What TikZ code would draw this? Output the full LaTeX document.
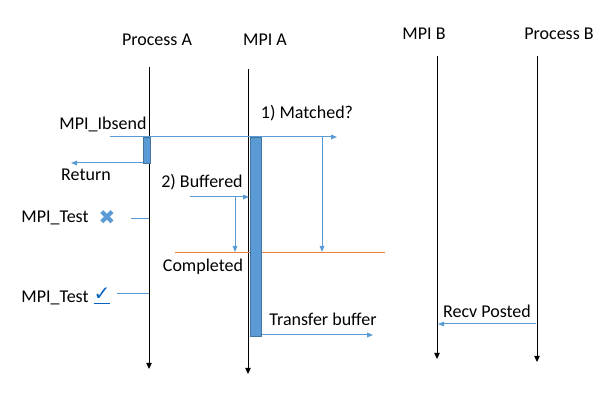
\documentclass[tikz,border=0pt]{standalone}
\usepackage{fontspec}
\setmainfont{Carlito}
\newfontfamily\symfont{DejaVu Sans}
\usetikzlibrary{positioning,arrows.meta}
\definecolor{msgblue}{HTML}{5B9BD5}
\definecolor{doneorange}{HTML}{ED7D31}
\definecolor{linkblue}{HTML}{0563C1}

\begin{document}
\begin{tikzpicture}[
  x=0.75pt, y=-0.75pt, line width=0.75pt,
  lifeline/.style={
        draw,
        -{Triangle[length=4.5pt,width=4pt]}
  },
  msg/.style={draw=msgblue, -{Triangle[length=4.5pt,width=3.5pt]}},
  poll/.style={draw=msgblue},
  busy/.style={draw=msgblue!75!black, fill=msgblue, inner sep=0pt, anchor=north west},
  lbl/.style={inner sep=1pt, font=\fontsize{13.5}{15}\selectfont}
]
    \useasboundingbox (0,0) rectangle (601,416);

    % heads
    \node[lbl] (ProcA) at (157,40) {Process A};
    \node[lbl] (MpiA) at (265,40) {MPI A};
    \node[lbl] (MpiB) at (424,34) {MPI B};
    \node[lbl] (ProcB) at (559,34) {Process B};

    \coordinate (ProcA_top) at (149,67);
    \coordinate (ProcA_end) at (149,369);
    \coordinate (MpiA_top) at (248,69);
    \coordinate (MpiA_end) at (248,374);
    \coordinate (MpiB_top) at (437,56);
    \coordinate (MpiB_end) at (437,359);
    \coordinate (ProcB_top) at (537,56);
    \coordinate (ProcB_end) at (537,362);

    \draw[lifeline] (ProcA_top) -- (ProcA_end);
    \draw[lifeline] (MpiA_top) -- (MpiA_end);
    \draw[lifeline] (MpiB_top) -- (MpiB_end);
    \draw[lifeline] (ProcB_top) -- (ProcB_end);

    % completion line
    \coordinate (Done_l) at (175,253);
    \coordinate (Done_r) at (385,253);
    \draw[doneorange] (Done_l) -- (Done_r);

    % busy bars
    \node[busy, minimum width=5.25pt, minimum height=19.5pt] (Bar_A) at (143,137) {};
    \node[busy, minimum width=8.25pt, minimum height=149pt] (Bar_MpiA) at (250,137) {};

    % Ibsend
    \node[lbl] (Ibsend) at (103,124) {MPI\_Ibsend};
    \coordinate (Send_s) at (110,137);
    \coordinate (Send_e) at (337,137);
    \draw[msg] (Send_s) -- (Send_e);

    \node[lbl] (Matched) at (307,113) {1) Matched?};
    \coordinate (Match_t) at (322,137);
    \coordinate (Match_b) at (322,252);
    \draw[msg] (Match_t) -- (Match_b);

    \node[lbl] (Return) at (86,175) {Return};
    \coordinate (Ret_s) at (143,163);
    \coordinate (Ret_e) at (71,163);
    \draw[msg] (Ret_s) -- (Ret_e);

    \node[lbl] (Buffered) at (202,182) {2) Buffered};
    \coordinate (Buf_s) at (190,197);
    \coordinate (Buf_e) at (249,197);
    \draw[msg] (Buf_s) -- (Buf_e);
    \coordinate (Buf_t) at (235,197);
    \coordinate (Buf_b) at (235,252);
    \draw[msg] (Buf_t) -- (Buf_b);

    \node[lbl] (Completed) at (203,267) {Completed};

    % tests
    \node[lbl] (Test_1) at (55,218) {MPI\_Test};
    \node[lbl, text=msgblue, font=\symfont\fontsize{15}{16}\selectfont] (Cross) at (107,218) {✖};
    \coordinate (Poll_1s) at (131,219);
    \coordinate (Poll_1e) at (149,219);
    \draw[poll] (Poll_1s) -- (Poll_1e);

    \node[lbl] (Test_2) at (55,298) {MPI\_Test};
    \node[lbl, text=linkblue, font=\symfont\bfseries\fontsize{15}{16}\selectfont] (Check) at (102,296) {\underline{✓}};
    \coordinate (Poll_2s) at (117,294);
    \coordinate (Poll_2e) at (149,294);
    \draw[poll] (Poll_2s) -- (Poll_2e);

    % transfer
    \node[lbl] (Transfer) at (323,319) {Transfer buffer};
    \coordinate (Xfer_s) at (262,335);
    \coordinate (Xfer_e) at (373,335);
    \draw[msg] (Xfer_s) -- (Xfer_e);

    \node[lbl] (Recv) at (487,311) {Recv Posted};
    \coordinate (Recv_s) at (536,324);
    \coordinate (Recv_e) at (438,324);
    \draw[msg] (Recv_s) -- (Recv_e);
\end{tikzpicture}
\end{document}
